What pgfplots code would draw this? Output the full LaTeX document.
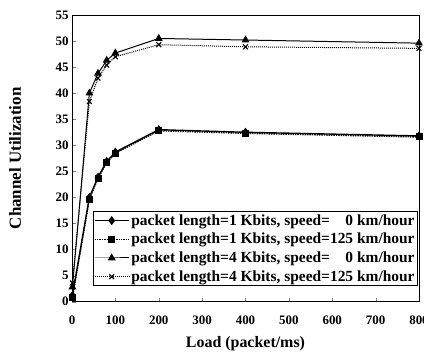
\documentclass[border=0pt]{standalone}
\usepackage{fontspec}
\setmainfont{Liberation Serif}
\usepackage{pgfplots}
\pgfplotsset{compat=1.18}
\begin{document}
\begin{tikzpicture}
\begin{axis}[
  scale only axis, width=347bp, height=286.7bp,
  xmin=0, xmax=800, ymin=0, ymax=55,
  xtick={0,100,...,800}, ytick={0,5,...,55},
  tick align=inside, xtick pos=bottom, ytick pos=left,
  major tick length=4bp,
  axis line style={line width=0.9bp},
  /pgf/number format/assume math mode=true,
  tick label style={font=\fontsize{13}{15}\selectfont\bfseries},
  xticklabel style={yshift=-11bp},
  xlabel={Load (packet/ms)}, ylabel={Channel Utilization},
  xlabel style={font=\fontsize{16}{18}\selectfont\bfseries, at={(axis description cs:0.5,-0.147)}, anchor=center},
  ylabel style={font=\fontsize{17}{19}\selectfont\bfseries, at={(axis description cs:-0.164,0.5)}, anchor=center},
  legend style={at={(0.997,0.316)}, anchor=north east, draw=black, line width=0.8bp,
    font=\fontsize{15.5}{18}\selectfont\bfseries, inner sep=1bp, row sep=2.5bp},
  legend cell align=left,
  legend image code/.code={\draw[mark repeat=2,mark phase=2,#1] plot coordinates {(0cm,0cm) (0.6cm,0cm) (1.2cm,0cm)};},
]
\addplot[black, line width=1.4bp, mark=diamond*, mark size=3.4bp, mark options={solid}]
  coordinates {(1,1.2) (40,20.0) (60,23.9) (80,26.9) (100,28.7) (200,33.0) (400,32.5) (800,31.8)};
\addlegendentry{packet length=1 Kbits, speed=\phantom{12}0 km/hour}
\addplot[black, densely dotted, line width=1.4bp, mark=square*, mark size=2.8bp, mark options={solid}]
  coordinates {(1,0.9) (40,19.7) (60,23.7) (80,26.7) (100,28.5) (200,32.8) (400,32.3) (800,31.6)};
\addlegendentry{packet length=1 Kbits, speed=125 km/hour}
\addplot[black, line width=1bp, mark=triangle*, mark size=3.6bp, mark options={solid}]
  coordinates {(1,2.8) (40,40.0) (60,43.8) (80,46.3) (100,47.7) (200,50.5) (400,50.2) (800,49.6)};
\addlegendentry{packet length=4 Kbits, speed=\phantom{12}0 km/hour}
\addplot[black, densely dotted, line width=1bp, mark=x, mark size=3.4bp, mark options={solid, line width=1.1bp}]
  coordinates {(1,3.6) (40,38.4) (60,42.9) (80,45.4) (100,47.0) (200,49.3) (400,48.9) (800,48.6)};
\addlegendentry{packet length=4 Kbits, speed=125 km/hour}
\end{axis}
\pgfresetboundingbox
\path ([xshift=-72bp,yshift=-56.3bp]current axis.south west) rectangle ([xshift=5bp,yshift=15bp]current axis.north east);
\end{tikzpicture}
\end{document}
